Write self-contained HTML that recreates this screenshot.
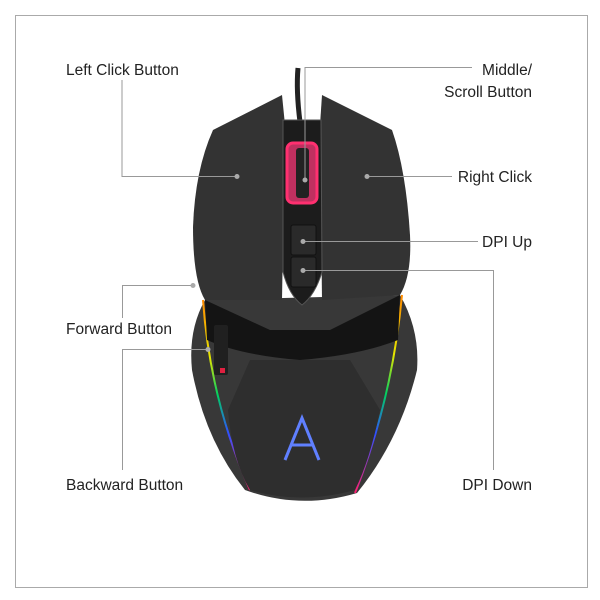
<!DOCTYPE html>
<html><head><style>
html,body{margin:0;padding:0;background:#fff;}
svg{display:block;}
text{font-family:"Liberation Sans",sans-serif;font-size:15.5px;fill:#222;}
</style></head><body>
<svg width="600" height="600" viewBox="0 0 600 600">
<defs>
<linearGradient id="rgb" x1="0" y1="0" x2="0" y2="1">
<stop offset="0" stop-color="#ff8a00"/><stop offset="0.3" stop-color="#e6e600"/><stop offset="0.5" stop-color="#00d060"/><stop offset="0.7" stop-color="#3050ff"/><stop offset="1" stop-color="#ff2070"/>
</linearGradient>
</defs>
<rect x="15.5" y="15.5" width="572" height="572" fill="none" stroke="#aaa" stroke-width="1"/>
<!-- cable -->
<path d="M298 68 Q296 90 300 122" stroke="#222" stroke-width="5" fill="none"/>
<!-- body lower -->
<path d="M205 300 Q188 330 192 370 Q205 440 245 490 Q300 510 357 493 Q400 440 417 370 Q420 330 400 295 Z" fill="#383838"/>
<path d="M203 300 Q210 400 250 490" stroke="url(#rgb)" stroke-width="2" fill="none"/>
<path d="M402 295 Q392 400 355 493" stroke="url(#rgb)" stroke-width="2" fill="none"/>
<!-- upper buttons -->
<path d="M213 130 L282 95 L285 125 L282 300 L205 300 Q193 280 193 227 Q195 170 213 130 Z" fill="#333"/>
<path d="M392 130 L322 95 L320 125 L322 300 L400 295 Q412 275 410 235 Q406 170 392 130 Z" fill="#333"/>
<!-- dark band -->
<path d="M205 300 L270 330 L330 330 L400 295 L398 340 Q360 355 300 360 Q240 355 207 340 Z" fill="#141414"/>
<!-- palm -->
<path d="M250 360 L350 360 L380 410 Q370 460 355 490 Q300 505 250 490 Q232 460 228 410 Z" fill="#2e2e2e"/>
<!-- center channel -->
<path d="M283 120 L321 120 L322 272 Q315 295 302 305 Q289 295 283 272 Z" fill="#1c1c1c" stroke="#555" stroke-width="1"/>
<rect x="287" y="143" width="30" height="60" rx="6" fill="#c03060" stroke="#ff3070" stroke-width="3"/>
<rect x="296" y="148" width="13" height="50" rx="3" fill="#222"/>
<rect x="291" y="225" width="25" height="30" rx="2" fill="#2a2a2a" stroke="#111"/>
<rect x="291" y="257" width="25" height="30" rx="2" fill="#2a2a2a" stroke="#111"/>
<!-- side buttons -->
<rect x="214" y="325" width="14" height="50" rx="2" fill="#202020"/>
<rect x="220" y="368" width="5" height="5" fill="#e02040"/>
<!-- logo -->
<path d="M285 460 L302 418 L319 460 M291 445 L314 445" stroke="#6080ff" stroke-width="3" fill="none"/>
<!-- connectors -->
<g stroke="#999" stroke-width="1" fill="none">
<path d="M122 80 V176.5 H237"/>
<path d="M305 180 V67.5 H472"/>
<path d="M367 176.5 H452"/>
<path d="M303 241.5 H478"/>
<path d="M303 270.5 H493.5 V470"/>
<path d="M122.5 318 V285.5 H193"/>
<path d="M122.5 470 V349.5 H208"/>
</g>
<g fill="#aaa">
<circle cx="237" cy="176.5" r="2.5"/><circle cx="305" cy="180" r="2.5"/><circle cx="367" cy="176.5" r="2.5"/>
<circle cx="303" cy="241.5" r="2.5"/><circle cx="303" cy="270.5" r="2.5"/><circle cx="193" cy="285.5" r="2.5"/><circle cx="208" cy="349.5" r="2.5"/>
</g>
<text x="66" y="75">Left Click Button</text>
<text x="532" y="75" text-anchor="end">Middle/</text>
<text x="532" y="97" text-anchor="end">Scroll Button</text>
<text x="532" y="182" text-anchor="end">Right Click</text>
<text x="532" y="247" text-anchor="end">DPI Up</text>
<text x="66" y="334">Forward Button</text>
<text x="66" y="490">Backward Button</text>
<text x="532" y="490" text-anchor="end">DPI Down</text>
</svg>
</body></html>
